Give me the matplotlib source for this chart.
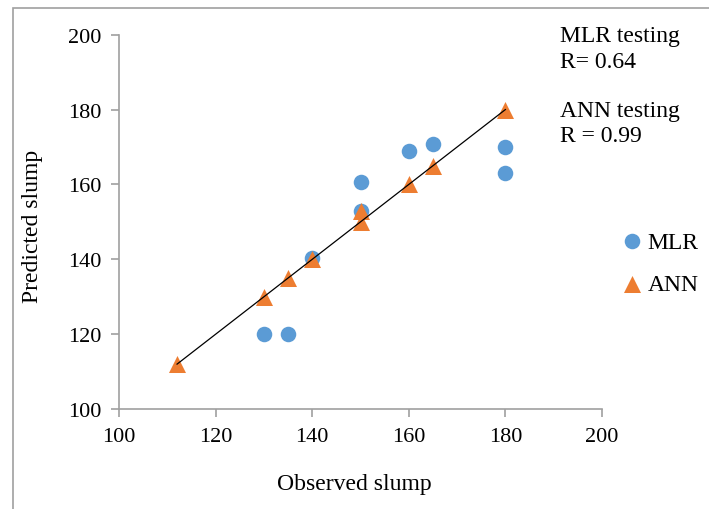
import matplotlib.pyplot as plt
from matplotlib.patches import Rectangle

plt.rcParams['font.family'] = ['Liberation Serif', 'DejaVu Serif']

# observed vs predicted slump
mlr_obs = [130, 135, 140, 150, 150, 160, 165, 180, 180]
mlr_pred = [120, 120, 140.4, 160.7, 153, 168.8, 170.9, 169.9, 163.1]
ann_obs = [112, 130, 135, 140, 150, 150, 160, 165, 180]
ann_pred = [112, 130, 135, 140, 153, 150, 160, 165, 180]
fit_x = [112, 180]
fit_y = [112, 180]

blue = '#5B9BD5'
orange = '#ED7D31'
grey = '#A0A0A0'

W, H = 709, 510
fig = plt.figure(figsize=(W / 100, H / 100), dpi=100)
ax = fig.add_axes([0.168, 0.196, 0.681, 0.734])

ax.scatter(mlr_obs, mlr_pred, s=125, color=blue, marker='o', label='MLR', zorder=3, linewidths=0)
ax.scatter(ann_obs, ann_pred, s=150, color=orange, marker='^', label='ANN', zorder=4, linewidths=0)
ax.plot(fit_x, fit_y, color='black', lw=0.9, zorder=5)

ax.set_xlim(100, 200)
ax.set_ylim(100, 200)
ax.set_xticks(range(100, 201, 20))
ax.set_yticks(range(100, 201, 20))
for s in ['top', 'right']:
    ax.spines[s].set_visible(False)
for s in ['left', 'bottom']:
    ax.spines[s].set_color(grey)
    ax.spines[s].set_linewidth(1.2)
ax.tick_params(colors=grey, labelcolor='black', labelsize=16, length=6, width=1.2, direction='out')
ax.tick_params(axis='x', pad=7)
ax.tick_params(axis='y', pad=7)

fs = 17
fig.text(0.5, 1 - 485 / H, 'Observed slump', ha='center', va='center', fontsize=fs)
fig.text(33 / W, 1 - 226 / H, 'Predicted slump', ha='center', va='center', rotation=90, fontsize=fs)

# R annotations, one line each
notes = ['MLR testing', 'R= 0.64', 'ANN testing', 'R = 0.99']
baselines = [42, 68, 117, 142]
for txt, yb in zip(notes, baselines):
    fig.text(560 / W, 1 - yb / H, txt, ha='left', va='baseline', fontsize=fs)

leg = fig.legend(loc='upper left', bbox_to_anchor=(623 / W, 1 - 232 / H), frameon=False, fontsize=fs,
                 handlelength=0.8, handletextpad=0.25, labelspacing=0.9, borderpad=0, borderaxespad=0)

# grey outer frame
fig.patches.append(Rectangle((13 / W, -0.1), 1.2, (1 - 9 / H) + 0.1, transform=fig.transFigure,
                             fill=False, edgecolor=grey, lw=1.2))

fig.savefig('out.png', dpi=100)
